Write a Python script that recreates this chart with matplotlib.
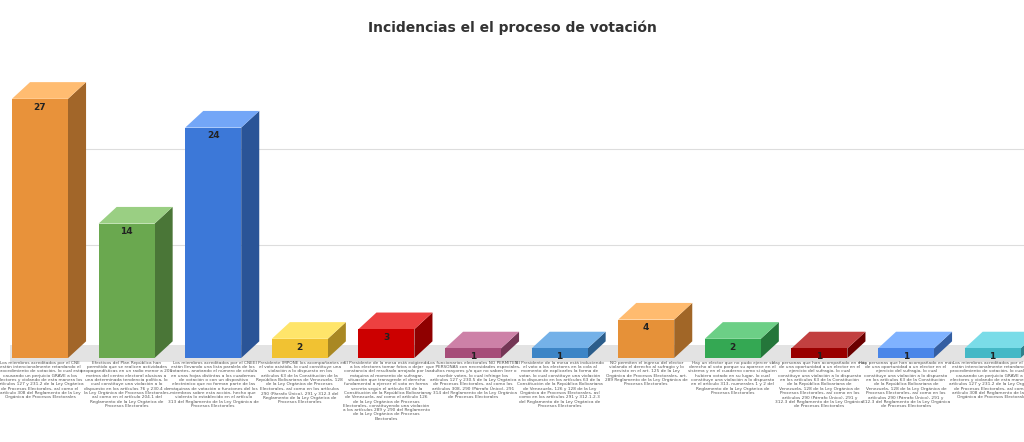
import matplotlib
matplotlib.use("Agg")
import matplotlib.pyplot as plt
from matplotlib.patches import Polygon
from matplotlib.transforms import ScaledTranslation
import matplotlib.colors as mc
import textwrap

title = "Incidencias el el proceso de votación"
values = [27, 14, 24, 2, 3, 1, 1, 4, 2, 1, 1, 1]
colors = ["#E8923A", "#6AA84F", "#3C78D8", "#F1C232", "#CC0000", "#A64D79",
          "#3D85C6", "#E69138", "#34A853", "#990000", "#4A86E8", "#45B8C6"]
labels = [
 "Los miembros acreditados por el CNE están intencionalmente retardando el procedimiento de votación, lo cual está causando un perjuicio GRAVE a los electores y violando de esta manera los artículos 127 y 231.2 de la Ley Orgánica de Procesos Electorales, así como el artículo 308 del Reglamento de la Ley Orgánica de Procesos Electorales",
 "Efectivos del Plan República han permitido que se realicen actividades propagandísticas en un radio menor a 200 metros del centro electoral alusivas a una determinada tendencia política, lo cual constituye una violación a lo dispuesto en los artículos 76 y 230.4 de la Ley Orgánica de Procesos Electorales, así como en el artículo 204.1 del Reglamento de la Ley Orgánica de Procesos Electorales",
 "Los miembros acreditados por el CNE están llevando una lista paralela de los votantes, anotando el número de cédula en unas hojas distintas a los cuadernos de votación o con un dispositivo electrónico que no forman parte de las máquinas de votación o funciones del los miembros sobre esta acción, hecho que violenta lo establecido en el artículo 313 del Reglamento de la Ley Orgánica de Procesos Electorales",
 "El Presidente IMPONE los acompañantes en el voto asistido, lo cual constituye una violación a lo dispuesto en los artículos 63 de la Constitución de la República Bolivariana de Venezuela, 128 de la Ley Orgánica de Procesos Electorales, así como en los artículos 290 (Párrafo Único), 291 y 312.3 del Reglamento de la Ley Orgánica de Procesos Electorales",
 "El Presidente de la mesa está exigiendo a los electores tomar fotos o dejar constancia del resultado arrojado por la máquina al momento de sufragar, situación que transgrede el derecho fundamental a ejercer el voto en forma secreta según el artículo 63 de la Constitución de la República Bolivariana de Venezuela, así como el artículo 126 de la Ley Orgánica de Procesos Electorales, constituyendo una violación a los artículos 289 y 290 del Reglamento de la Ley Orgánica de Procesos Electorales",
 "Los funcionarios electorales NO PERMITEN que PERSONAS con necesidades especiales, adultos mayores y/o que no saben leer o escribir voten, lo cual infringe los artículos 127 y 230.5 de la Ley Orgánica de Procesos Electorales, así como los artículos 308, 290 (Párrafo Único), 291 y 314 del Reglamento de la Ley Orgánica de Procesos Electorales",
 "El Presidente de la mesa está induciendo el voto a los electores en la cola al momento de explicarles la forma de votar, lo cual constituye una violación a lo dispuesto en los artículos 63 de la Constitución de la República Bolivariana de Venezuela, 126 y 128 de la Ley Orgánica de Procesos Electorales, así como en los artículos 291 y 312.1.2.3 del Reglamento de la Ley Orgánica de Procesos Electorales",
 "NO permiten el ingreso del elector violando el derecho al sufragio y lo previsto en el art. 125 de la Ley Orgánica de Procesos Electorales, art. 289 Reglamento de la Ley Orgánica de Procesos Electorales",
 "Hay un elector que no pudo ejercer su derecho al voto porque su aparece en el sistema y en el cuaderno como si alguien hubiera votado en su lugar, lo cual constituye una violación a lo dispuesto en el artículo 313, numerales 1 y 2 del Reglamento de la Ley Orgánica de Procesos Electorales",
 "Hay personas que han acompañado en más de una oportunidad a un elector en el ejercicio del sufragio, lo cual constituye una violación a lo dispuesto en los artículos 63 de la Constitución de la República Bolivariana de Venezuela, 128 de la Ley Orgánica de Procesos Electorales, así como en los artículos 290 (Párrafo Único), 291 y 312.3 del Reglamento de la Ley Orgánica de Procesos Electorales",
 "Hay personas que han acompañado en más de una oportunidad a un elector en el ejercicio del sufragio, lo cual constituye una violación a lo dispuesto en los artículos 63 de la Constitución de la República Bolivariana de Venezuela, 128 de la Ley Orgánica de Procesos Electorales, así como en los artículos 290 (Párrafo Único), 291 y 312.3 del Reglamento de la Ley Orgánica de Procesos Electorales",
 "Los miembros acreditados por el CNE están intencionalmente retardando el procedimiento de votación, lo cual está causando un perjuicio GRAVE a los electores y violando de esta manera los artículos 127 y 231.2 de la Ley Orgánica de Procesos Electorales, así como el artículo 308 del Reglamento de la Ley Orgánica de Procesos Electorales",
]

W, H = 1024, 442
fig = plt.figure(figsize=(W/100, H/100), dpi=100)
fig.patch.set_facecolor("white")
ax = fig.add_axes([0, (H-358)/H, 1, 300/H])
ax.set_facecolor("none")
step = 86.6
ax.set_xlim(-40/step, (W-40)/step)
ymax = 300/9.6
ax.set_ylim(0, ymax)
ax.axis("off")

dx, dy = 13/72, 12/72
off = ScaledTranslation(dx, dy, fig.dpi_scale_trans)
back = ax.transData + off
x0, x1 = ax.get_xlim()

fig.add_artist(plt.Rectangle((10/W, (H-362)/H), 1, 17/H, transform=fig.transFigure,
                             facecolor="#e3e3e3", edgecolor="none", zorder=0))
for g in [10, 20]:
    ax.plot([x0 + 0.2, x1], [g, g], color="#dddddd", lw=0.8, transform=back, zorder=0)

bw = 56/step
for i, (v, c) in enumerate(zip(values, colors)):
    l, r = i - bw/2, i + bw/2
    dark = tuple(x*0.7 for x in mc.to_rgb(c))
    light = tuple(min(1, x*0.85+0.25) for x in mc.to_rgb(c))
    p0 = ax.transData.transform((r, 0)); p1 = ax.transData.transform((r, v))
    p2 = back.transform((r, v)); p3 = back.transform((r, 0))
    ax.add_patch(Polygon([p0, p1, p2, p3], closed=True, transform=None,
                         facecolor=dark, edgecolor="none", zorder=2))
    t0 = ax.transData.transform((l, v)); t1 = ax.transData.transform((r, v))
    t2 = back.transform((r, v)); t3 = back.transform((l, v))
    ax.add_patch(Polygon([t0, t1, t2, t3], closed=True, transform=None,
                         facecolor=light, edgecolor="none", zorder=2))
    ax.bar(i, v, width=bw, color=c, zorder=3)
    ax.text(i, v - 0.4, str(v), ha="center", va="top", fontsize=6.5,
            fontweight="bold", color="#222222", zorder=4)
    ax.text(i, -0.3, "\n".join(textwrap.wrap(labels[i], 40)), ha="center",
            va="top", fontsize=3.1, color="#555555", linespacing=1.1,
            clip_on=False)

fig.text(0.5, 1 - 28/H, title, ha="center", va="center", fontsize=10,
         fontweight="bold", color="#333333")
fig.savefig("out.png", dpi=100)
